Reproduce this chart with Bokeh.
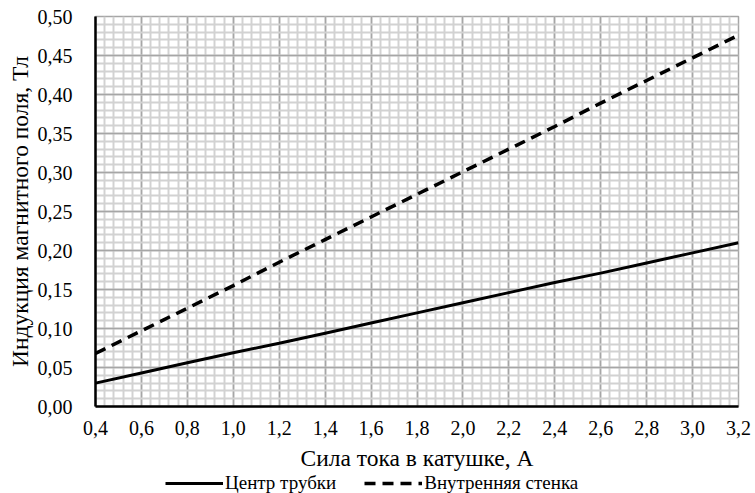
from bokeh.plotting import figure
from bokeh.layouts import column
from bokeh.models import Range1d, FixedTicker, CustomJSTickFormatter, Legend, LegendItem
from bokeh.embed import file_html
from bokeh.resources import INLINE

# Data
current = [0.4, 0.6, 0.8, 1.0, 1.2, 1.4, 1.6, 1.8, 2.0, 2.2, 2.4, 2.6, 2.8, 3.0, 3.2]
center_tube = [0.030, 0.043, 0.056, 0.069, 0.081, 0.094, 0.107, 0.120, 0.133,
               0.146, 0.159, 0.171, 0.184, 0.197, 0.210]
inner_wall = [0.068, 0.097, 0.126, 0.155, 0.185, 0.214, 0.243, 0.272, 0.301,
              0.330, 0.359, 0.389, 0.418, 0.447, 0.476]
x_ticks = [0.4, 0.6, 0.8, 1.0, 1.2, 1.4, 1.6, 1.8, 2.0, 2.2, 2.4, 2.6, 2.8, 3.0, 3.2]
y_ticks = [0.0, 0.05, 0.10, 0.15, 0.20, 0.25, 0.30, 0.35, 0.40, 0.45, 0.50]
x_minor = [round(0.4 + 0.04 * i, 2) for i in range(71)]
y_minor = [round(0.01 * i, 2) for i in range(51)]

x_label = "Сила тока в катушке, А"
y_label = "Индукция магнитного поля, Тл"
series_names = ["Центр трубки", "Внутренняя стенка"]

FONT = "Liberation Serif"
SOLID = dict(line_color="black", line_width=3)
DASHED = dict(line_color="black", line_width=3.5, line_dash="11 7")

p = figure(width=755, height=473, output_backend="svg", toolbar_location=None,
           x_range=Range1d(0.4, 3.2), y_range=Range1d(0.0, 0.5),
           min_border_left=95, min_border_right=17, min_border_top=16, min_border_bottom=67)

p.xaxis.ticker = FixedTicker(ticks=x_ticks, minor_ticks=x_minor)
p.yaxis.ticker = FixedTicker(ticks=y_ticks, minor_ticks=y_minor)
p.xaxis.formatter = CustomJSTickFormatter(code="return tick.toFixed(1).replace('.', ',');")
p.yaxis.formatter = CustomJSTickFormatter(code="return tick.toFixed(2).replace('.', ',');")

for ax in (p.xaxis[0], p.yaxis[0]):
    ax.major_tick_line_color = None
    ax.minor_tick_line_color = None
    ax.axis_line_color = "black"
    ax.axis_line_width = 2.5
    ax.major_label_text_font = FONT
    ax.major_label_text_font_size = "20px"
    ax.major_label_text_color = "black"
    ax.major_label_text_line_height = 1.0
    ax.axis_label_text_font = FONT
    ax.axis_label_text_font_size = "23.5px"
    ax.axis_label_text_font_style = "normal"
    ax.axis_label_text_color = "black"
    ax.axis_label_text_line_height = 1.0

p.xaxis.axis_label = x_label
p.yaxis.axis_label = y_label
p.xaxis.major_label_standoff = 8
p.xaxis.axis_label_standoff = 7
p.yaxis.major_label_standoff = 17
p.yaxis.axis_label_standoff = 2

p.xgrid.grid_line_color = "#a6a6a6"
p.ygrid.grid_line_color = "#a6a6a6"
p.xgrid.grid_line_width = 1.5
p.ygrid.grid_line_width = 1.5
p.xgrid.minor_grid_line_color = "#d2d2d2"
p.ygrid.minor_grid_line_color = "#d2d2d2"
p.xgrid.minor_grid_line_width = 2
p.ygrid.minor_grid_line_width = 2
p.outline_line_color = "#a6a6a6"
p.outline_line_width = 1.5
p.background_fill_color = "white"
p.border_fill_color = "white"

p.line(current, center_tube, **SOLID)
p.line(current, inner_wall, **DASHED)

# Legend strip below the chart: same series with the same styles, drawn outside
# this strip's visible range so that only the legend shows.
lg = figure(width=755, height=20, output_backend="svg", toolbar_location=None,
            x_range=Range1d(10, 11), y_range=Range1d(10, 11),
            min_border=0, min_border_left=0, min_border_right=0,
            min_border_top=0, min_border_bottom=0)
lg.axis.visible = False
lg.grid.visible = False
lg.outline_line_color = None
l1 = lg.line(current, center_tube, **SOLID)
l2 = lg.line(current, inner_wall, **DASHED)
legend = Legend(items=[LegendItem(label=series_names[0], renderers=[l1]),
                       LegendItem(label=series_names[1], renderers=[l2])],
                orientation="horizontal", location=(70, -1),
                label_text_font=FONT, label_text_font_size="19px",
                label_text_color="black", label_text_line_height=1.0,
                label_height=14,
                glyph_width=58, glyph_height=14, label_standoff=2, spacing=28,
                padding=0, margin=0, border_line_color=None,
                background_fill_alpha=0)
lg.add_layout(legend, "center")

open("out.html", "w").write(file_html(column(p, lg, spacing=0), INLINE))
